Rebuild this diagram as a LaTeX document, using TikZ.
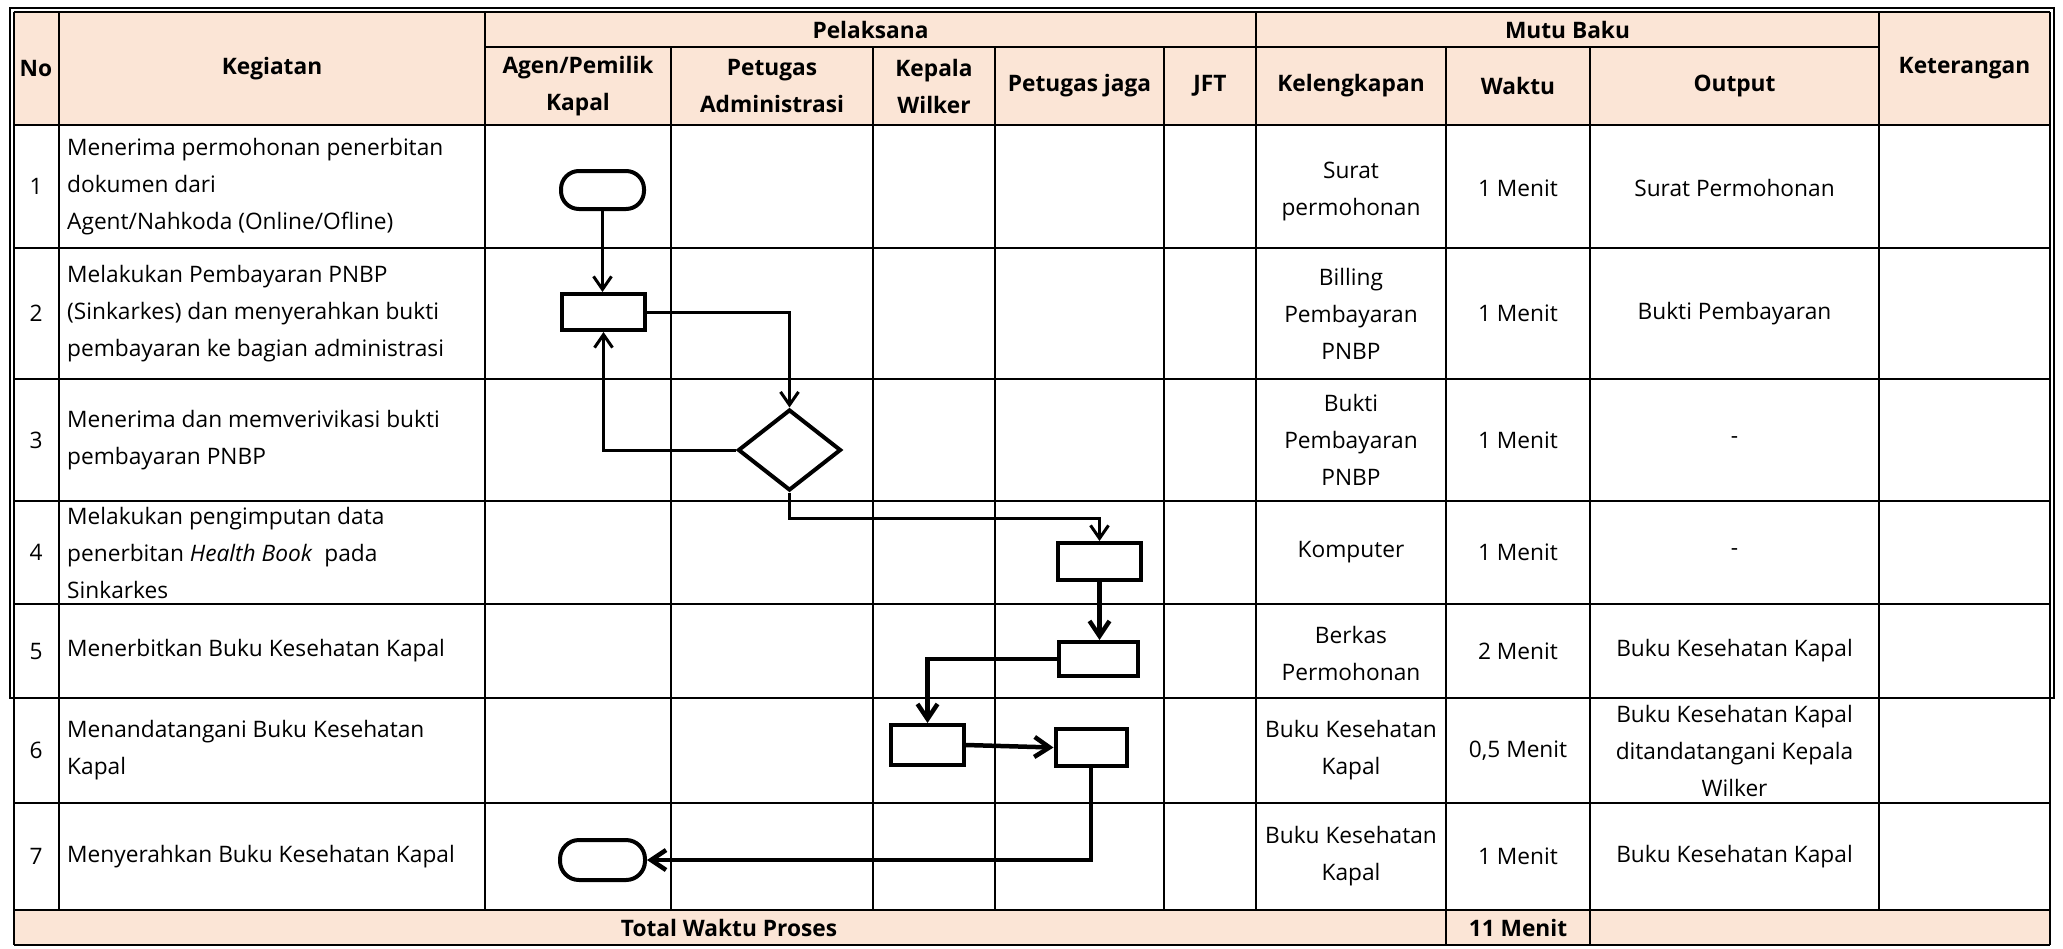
\documentclass[tikz,border=0pt]{standalone}
\usepackage{fontspec}
\setmainfont{Open Sans}
\usetikzlibrary{arrows.meta,shapes.geometric}
\definecolor{peach}{RGB}{251,229,214}
\begin{document}
\begin{tikzpicture}[x=1pt,y=-1pt,
  gridline/.style={line width=2pt},
  txt/.style={font=\fontsize{22.7}{37}\selectfont, inner sep=0pt, align=center, text=black},
  hdr/.style={font=\fontsize{22.7}{37}\selectfont\bfseries, inner sep=0pt, align=center, text=black},
  lefttxt/.style={txt, align=left, anchor=west},
  term/.style={draw, line width=4pt, rectangle, rounded corners=18pt, inner sep=0pt, minimum width=83pt, minimum height=38pt},
  proc/.style={draw, line width=4pt, rectangle, inner sep=0pt},
  dec/.style={draw, diamond, line width=4pt, inner sep=0pt, minimum width=103pt, minimum height=81pt},
  conn/.style={line width=3pt, -{Straight Barb[length=13pt,width=18pt]}},
  connb/.style={line width=4.5pt, -{Straight Barb[length=15pt,width=20pt]}}
]
\useasboundingbox (0,0) rectangle (2063,948);
% fills
\fill[peach] (13.5,12) rectangle (2050,125);
\fill[peach] (13.5,910) rectangle (2050,945);
% outer double frame (header to row 5)
\draw[line width=1.8pt] (10,8) rectangle (2054,698);
% horizontal lines
\draw[gridline] (13.5,12) -- (2050,12);
\draw[gridline] (485,47) -- (1879,47);
\foreach \yy in {125,248,379,501,604,698,803,910,945}
  \draw[gridline] (13.5,\yy) -- (2050,\yy);
% vertical lines
\draw[gridline] (13.5,12) -- (13.5,945);
\draw[gridline] (2050,12) -- (2050,945);
\foreach \xx in {59,485,1256,1879}
  \draw[gridline] (\xx,12) -- (\xx,910);
\foreach \xx in {671,873,995,1164}
  \draw[gridline] (\xx,47) -- (\xx,910);
\foreach \xx in {1446,1590}
  \draw[gridline] (\xx,47) -- (\xx,945);

% header texts
\node[hdr] (hno) at (36,68.5) {No};
\node[hdr] (hkeg) at (272,68.5) {Kegiatan};
\node[hdr] (hpel) at (870.5,29.5) {Pelaksana};
\node[hdr] (hmutu) at (1567.5,29.5) {Mutu Baku};
\node[hdr] (hket) at (1964.5,68.5) {Keterangan};
\node[hdr] (hagen) at (578,86) {Agen/Pemilik\\Kapal};
\node[hdr] (hadm) at (772,86) {Petugas\\Administrasi};
\node[hdr] (hkep) at (934,86) {Kepala\\Wilker};
\node[hdr] (hjaga) at (1079.5,86) {Petugas jaga};
\node[hdr] (hjft) at (1210,86) {JFT};
\node[hdr] (hkel) at (1351,86) {Kelengkapan};
\node[hdr] (hwak) at (1518,86) {Waktu};
\node[hdr] (hout) at (1734.5,86) {Output};

% numbers
\node[txt] (n1) at (36,186.5) {1};
\node[txt] (n2) at (36,313.5) {2};
\node[txt] (n3) at (36,440) {3};
\node[txt] (n4) at (36,552.5) {4};
\node[txt] (n5) at (36,651) {5};
\node[txt] (n6) at (36,750.5) {6};
\node[txt] (n7) at (36,856.5) {7};

% kegiatan
\node[lefttxt] (k1) at (67,186.5) {Menerima permohonan penerbitan\\dokumen dari\\Agent/Nahkoda (Online/Ofline)};
\node[lefttxt] (k2) at (67,313.5) {Melakukan Pembayaran PNBP\\(Sinkarkes) dan menyerahkan bukti\\pembayaran ke bagian administrasi};
\node[lefttxt] (k3) at (67,440) {Menerima dan memverivikasi bukti\\pembayaran PNBP};
\node[lefttxt] (k4) at (67,552.5) {Melakukan pengimputan data\\penerbitan \textit{Health Book}\ \ pada\\Sinkarkes};
\node[lefttxt] (k5) at (67,651) {Menerbitkan Buku Kesehatan Kapal};
\node[lefttxt] (k6) at (67,750.5) {Menandatangani Buku Kesehatan\\Kapal};
\node[lefttxt] (k7) at (67,856.5) {Menyerahkan Buku Kesehatan Kapal};

% kelengkapan
\node[txt] (l1) at (1351,192) {Surat\\permohonan};
\node[txt] (l2) at (1351,313.5) {Billing\\Pembayaran\\PNBP};
\node[txt] (l3) at (1351,440) {Bukti\\Pembayaran\\PNBP};
\node[txt] (l4) at (1351,552.5) {Komputer};
\node[txt] (l5) at (1351,653) {Berkas\\Permohonan};
\node[txt] (l6) at (1351,750.5) {Buku Kesehatan\\Kapal};
\node[txt] (l7) at (1351,856.5) {Buku Kesehatan\\Kapal};

% waktu
\node[txt] (w1) at (1518,188) {1 Menit};
\node[txt] (w2) at (1518,313.5) {1 Menit};
\node[txt] (w3) at (1518,440) {1 Menit};
\node[txt] (w4) at (1518,552.5) {1 Menit};
\node[txt] (w5) at (1518,651) {2 Menit};
\node[txt] (w6) at (1518,750.5) {0,5 Menit};
\node[txt] (w7) at (1518,856.5) {1 Menit};

% output
\node[txt] (o1) at (1734.5,188) {Surat Permohonan};
\node[txt] (o2) at (1734.5,313.5) {Bukti Pembayaran};
\node[txt] (o3) at (1734.5,440) {-};
\node[txt] (o4) at (1734.5,552.5) {-};
\node[txt] (o5) at (1734.5,651) {Buku Kesehatan Kapal};
\node[txt] (o6) at (1734.5,750.5) {Buku Kesehatan Kapal\\ditandatangani Kepala\\Wilker};
\node[txt] (o7) at (1734.5,856.5) {Buku Kesehatan Kapal};

% total row
\node[hdr] (tot) at (729,928) {Total Waktu Proses};
\node[hdr] (totw) at (1518,928) {11 Menit};

% flowchart shapes
\node[term] (t1) at (602.5,190) {};
\node[proc, minimum width=83pt, minimum height=36pt] (r2) at (603.5,312) {};
\node[dec] (d3) at (789.5,450) {};
\node[proc, minimum width=83pt, minimum height=37pt] (r4) at (1099.5,561.5) {};
\node[proc, minimum width=79pt, minimum height=34pt] (r5) at (1098.5,659) {};
\node[proc, minimum width=73pt, minimum height=40pt] (r6a) at (927.5,745) {};
\node[proc, minimum width=71pt, minimum height=37pt] (r6b) at (1091,747.5) {};
\node[term, minimum width=85pt, minimum height=40pt, rounded corners=19pt] (t7) at (602.5,860) {};
\coordinate (b4) at (1099.5,518);

% connectors
\draw[conn] (t1.south) -- (t1.south |- r2.north);
\draw[conn] (r2.east) -| (d3.north);
\draw[conn] (d3.west) -| (r2.south);
\draw[conn] (d3.south) |- (b4) -- (r4.north);
\draw[connb] (r4.south) -- (r4.south |- r5.north);
\draw[connb] (r5.west) -| (r6a.north);
\draw[connb] (r6a.east) -- (r6b.west);
\draw[connb] (r6b.south) |- (t7.east);
\end{tikzpicture}
\end{document}
